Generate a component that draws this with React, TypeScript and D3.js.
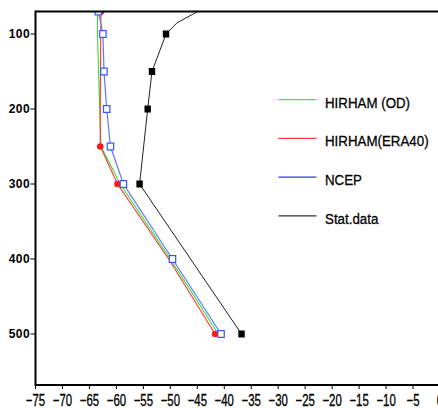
import React from "react";
import * as d3 from "d3";

// Pressure levels (hPa) and temperatures (°C) for each profile
const levels = [70, 100, 150, 200, 250, 300, 400, 500];
const hirhamOD = [-63.5, -63.5, -63.3, -63.1, -62.85, -59.3, -50.0, -41.1];
const hirhamERA40 = [-62.85, -62.9, -62.95, -63.0, -63.0, -59.8, -50.3, -41.7];
const ncep = [-63.35, -62.5, -62.3, -61.8, -61.1, -58.7, -49.6, -40.6];
const era40MarkerLevels = [70, 250, 300, 500];

const statLevels = [70, 85, 100, 150, 200, 300, 500];
const statData = [-44.9, -48.75, -50.8, -53.4, -54.2, -55.7, -36.8];
const statMarkerLevels = [100, 150, 200, 300, 500];

const xTicks = [-75, -70, -65, -60, -55, -50, -45, -40, -35, -30, -25, -20, -15, -10, -5, 0];
const yTicks = [100, 200, 300, 400, 500];

const legendItems = [
  { label: "HIRHAM (OD)", color: "#3ee83e" },
  { label: "HIRHAM(ERA40)", color: "#ff3b3b" },
  { label: "NCEP", color: "#2a3fd0" },
  { label: "Stat.data", color: "#333333" },
];

const W = 438;
const H = 408;
const left = 35.5;
const right = 440;
const top = 11.5;
const bottom = 385;

const x = d3.scaleLinear().domain([-75, 0]).range([left, right]);
const y = d3.scaleLinear().domain([70, 568]).range([top, bottom]);

const sans = "'Liberation Sans', Arial, sans-serif";

function pathFor(lv: number[], vals: number[]) {
  const line = d3
    .line<number>()
    .x((_, i) => x(vals[i]))
    .y((p) => y(p));
  return line(lv) || "";
}

export default function App() {
  return (
    <svg
      width={W}
      height={H}
      style={{ position: "absolute", left: 0, top: 0, background: "#fff" }}
    >
      <defs>
        <clipPath id="plotClip">
          <rect x={left} y={top} width={right - left} height={bottom - top} />
        </clipPath>
      </defs>

      <g clipPath="url(#plotClip)">
        <path d={pathFor(statLevels, statData)} fill="none" stroke="#222" strokeWidth={1} />
        <path d={pathFor(levels, hirhamOD)} fill="none" stroke="#33dd33" strokeWidth={1.1} />
        <path d={pathFor(levels, hirhamERA40)} fill="none" stroke="#ff3333" strokeWidth={1.1} />
        <path d={pathFor(levels, ncep)} fill="none" stroke="#5a78ff" strokeWidth={1.2} />

        {statLevels.map((p, i) =>
          statMarkerLevels.includes(p) ? (
            <rect
              key={"s" + p}
              x={x(statData[i]) - 3.2}
              y={y(p) - 3.5}
              width={6.4}
              height={7}
              fill="#000"
            />
          ) : null
        )}
        {levels.map((p, i) =>
          era40MarkerLevels.includes(p) ? (
            <circle key={"r" + p} cx={x(hirhamERA40[i])} cy={y(p)} r={3.3} fill="#ff1a1a" />
          ) : null
        )}
        {levels.map((p, i) => (
          <rect
            key={"n" + p}
            x={x(ncep[i]) - 3.2}
            y={y(p) - 3.4}
            width={6.4}
            height={6.8}
            fill="#fff"
            stroke="#3355ff"
            strokeWidth={1.2}
          />
        ))}
      </g>

      {/* frame */}
      <line x1={left} x2={right} y1={top} y2={top} stroke="#000" strokeWidth={2} />
      <line x1={left} x2={right} y1={bottom} y2={bottom} stroke="#000" strokeWidth={2} />
      <line x1={left} x2={left} y1={top - 1} y2={bottom + 1} stroke="#000" strokeWidth={2} />

      {/* y axis */}
      {yTicks.map((t) => (
        <g key={"y" + t}>
          <line x1={left - 5} x2={left} y1={y(t)} y2={y(t)} stroke="#000" strokeWidth={1} />
          <text
            x={left - 5.5}
            y={y(t) + 4}
            textAnchor="end"
            fontFamily={sans}
            fontWeight="bold"
            fontSize={12}
            letterSpacing={0.4}
            fill="#000"
          >
            {t}
          </text>
        </g>
      ))}

      {/* x axis */}
      {xTicks.map((t) => (
        <g key={"x" + t}>
          <line x1={x(t)} x2={x(t)} y1={bottom} y2={bottom + 4} stroke="#000" strokeWidth={1} />
          <g transform={`translate(${x(t)},405.5) scale(0.95,1.38)`}>
            <text
              x={0}
              y={0}
              textAnchor="middle"
              fontFamily={sans}
              fontSize={12}
              fill="#000"
              stroke="#000"
              strokeWidth={0.25}
            >
              {t < 0 ? "\u2212" + Math.abs(t) : String(t)}
            </text>
          </g>
        </g>
      ))}

      {/* legend */}
      {legendItems.map((item, i) => {
        const ly = 99.7 + i * 38.7;
        return (
          <g key={item.label}>
            <line x1={278.5} x2={316.5} y1={ly} y2={ly} stroke={item.color} strokeWidth={1.2} />
            <g transform={`translate(325,${ly + 8}) scale(0.86,1)`}>
              <text
                x={0}
                y={0}
                fontFamily={sans}
                fontSize={15.5}
                fill="#000"
                stroke="#000"
                strokeWidth={0.3}
              >
                {item.label}
              </text>
            </g>
          </g>
        );
      })}
    </svg>
  );
}
